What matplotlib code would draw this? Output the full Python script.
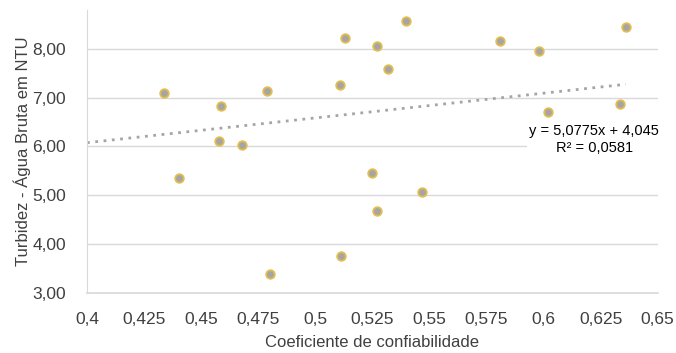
import matplotlib.pyplot as plt
import numpy as np

plt.rcParams['font.family'] = ['Liberation Sans', 'DejaVu Sans']

# Data
coef = [0.4338, 0.4402, 0.4589, 0.4576, 0.4680, 0.4789, 0.4801, 0.5107,
        0.5132, 0.5113, 0.5250, 0.5272, 0.5272, 0.5398, 0.5319, 0.5468,
        0.5807, 0.5979, 0.6019, 0.6335, 0.6360]
turbidez = [7.09, 5.36, 6.83, 6.11, 6.03, 7.14, 3.38, 7.25,
            8.23, 3.75, 5.46, 4.67, 8.05, 8.57, 7.58, 5.07,
            8.17, 7.96, 6.70, 6.87, 8.44]

# Linear trend line (as given in the chart)
slope = 5.0775
intercept = 4.045
r2 = 0.0581

x_ticks = [0.4, 0.425, 0.45, 0.475, 0.5, 0.525, 0.55, 0.575, 0.6, 0.625, 0.65]
x_tick_labels = ['0,4', '0,425', '0,45', '0,475', '0,5', '0,525', '0,55',
                 '0,575', '0,6', '0,625', '0,65']
y_ticks = [3, 4, 5, 6, 7, 8]
y_tick_labels = ['3,00', '4,00', '5,00', '6,00', '7,00', '8,00']

fig = plt.figure(figsize=(6.76, 3.53), dpi=100)
ax = fig.add_axes([0.1287, 0.171, 0.8443, 0.801])

ax.set_xlim(0.4, 0.65)
ax.set_ylim(3, 8.8)

# Gridlines
ax.set_axisbelow(True)
ax.yaxis.grid(True, color='#D9D9D9', linewidth=1)

# Trend line
tx = np.array([0.4, max(coef)])
ax.plot(tx, slope * tx + intercept, linestyle=(0, (1, 2)), color='#A5A5A5',
        linewidth=2, zorder=2)

# Scatter points
ax.scatter(coef, turbidez, s=38, facecolor='#A5A5A5', edgecolor='#E3BD4E',
           linewidth=1.3, zorder=3)

# Equation label
fmt = lambda v: str(v).replace('.', ',')
ax.text(0.6222, 6.14, f'y = {fmt(slope)}x + {fmt(intercept)}\nR² = {fmt(r2)}',
        ha='center', va='center', fontsize=10.5, color='#000000',
        linespacing=1.35, zorder=4,
        bbox=dict(facecolor='white', edgecolor='none', pad=2))

ax.set_xticks(x_ticks)
ax.set_xticklabels(x_tick_labels)
ax.set_yticks(y_ticks)
ax.set_yticklabels(y_tick_labels)
ax.tick_params(axis='x', length=0, labelsize=12.5, colors='#404040', pad=14)
ax.tick_params(axis='y', length=0, labelsize=12.5, colors='#404040', pad=15)

for side in ['top', 'right']:
    ax.spines[side].set_visible(False)
ax.spines['left'].set_color('#D9D9D9')
ax.spines['bottom'].set_color('#D9D9D9')
ax.spines['bottom'].set_linewidth(1.2)

ax.set_xlabel('Coeficiente de confiabilidade', fontsize=12, color='#404040',
              labelpad=6)
ax.set_ylabel('Turbidez - Água Bruta em NTU', fontsize=12, color='#404040',
              labelpad=1)

fig.savefig('out.png', dpi=100)
